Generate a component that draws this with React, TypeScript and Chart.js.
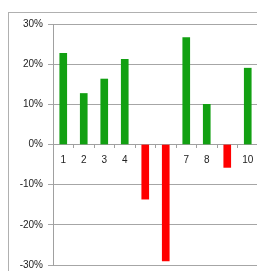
import React, { useEffect, useRef } from "react";
import { Chart, registerables } from "chart.js";

Chart.register(...registerables);

const categories = ["1", "2", "3", "4", "5", "6", "7", "8", "9", "10"];
const values = [22.7, 12.7, 16.3, 21.2, -13.6, -29.0, 26.6, 10.0, -5.7, 19.0];
const yTicks = [-30, -20, -10, 0, 10, 20, 30];

const GREEN = "#12A012";
const RED = "#FF0000";

export default function App() {
  const ref = useRef<HTMLCanvasElement | null>(null);
  useEffect(() => {
    if (!ref.current) return;
    const chart = new Chart(ref.current, {
      type: "bar",
      data: {
        labels: categories,
        datasets: [
          {
            data: values,
            backgroundColor: values.map((v) => (v >= 0 ? GREEN : RED)),
            barThickness: 7,
            borderWidth: 0,
          },
        ],
      },
      options: {
        responsive: false,
        animation: false,
        events: [],
        layout: { padding: { left: 0, top: 11, right: 7, bottom: 0 } },
        plugins: { legend: { display: false }, tooltip: { enabled: false } },
        scales: {
          x: {
            position: { y: 0 } as any,
            offset: true,
            grid: {
              offset: true,
              drawOnChartArea: false,
              drawTicks: true,
              tickLength: 3,
              color: "#a0a0a0",
            },
            border: { display: true, color: "#a0a0a0", width: 1 },
            ticks: {
              padding: 7,
              maxRotation: 0,
              autoSkip: false,
              color: "#222222",
              font: { family: "Liberation Sans", size: 10 },
            },
          },
          y: {
            min: -30,
            max: 30,
            afterFit: (s: any) => {
              s.width = 44;
            },
            afterBuildTicks: (s: any) => {
              s.ticks = yTicks.map((v) => ({ value: v }));
            },
            grid: {
              color: "#a6a6a6",
              tickLength: 5,
              lineWidth: 1,
            },
            border: { display: true, color: "#a0a0a0" },
            ticks: {
              padding: 5,
              color: "#222222",
              font: { family: "Liberation Sans", size: 10 },
              callback: (v: any) => `${v}%`,
            },
          },
        },
      },
    });
    return () => chart.destroy();
  }, []);
  return (
    <div
      style={{
        marginTop: 4,
        width: 257,
        height: 259,
        overflow: "hidden",
        borderLeft: "1px solid #b0b0b0",
        borderTop: "1px solid #b0b0b0",
        boxSizing: "border-box",
      }}
    >
      <canvas ref={ref} width={256} height={263} style={{ display: "block" }} />
    </div>
  );
}
